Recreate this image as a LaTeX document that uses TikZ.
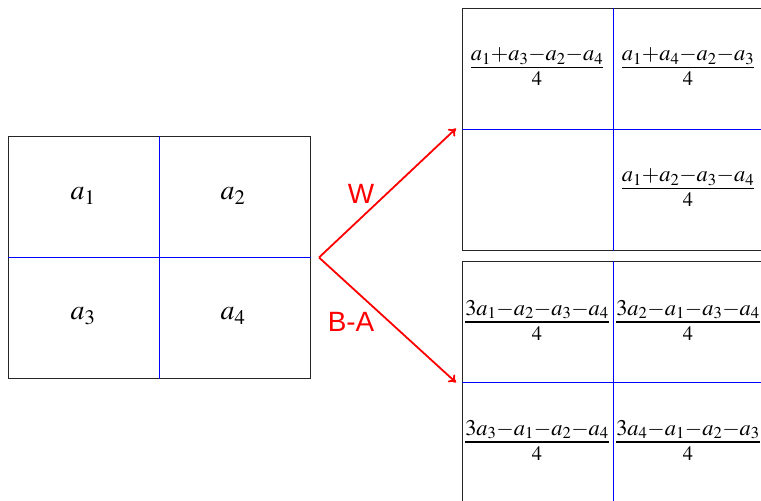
\documentclass[tikz,border=0pt]{standalone}
\usepackage{amsmath}
\usepackage{mathptmx}
\usepackage[no-math]{fontspec}
\newfontfamily\lsans{Liberation Sans}
\usetikzlibrary{arrows.meta}
\setlength{\arrayrulewidth}{1.2pt}
\newcommand{\fr}[2]{\begin{tabular}{@{}c@{}}\rule[-6pt]{0pt}{0pt}\fontsize{22.5}{24}\selectfont$\medmuskip=0mu #1$\\\hline\rule{0pt}{17.5pt}\fontsize{20.5}{22}\selectfont$#2$\end{tabular}}
\begin{document}
\begin{tikzpicture}[x=1bp,y=-1bp,
  boxframe/.style={draw=black!85,line width=1bp,minimum width=302bp,minimum height=242bp,inner sep=0pt},
  gridline/.style={draw=blue,line width=1.1bp},
  big/.style={font=\fontsize{28}{32}\selectfont},
  frac/.style={inner sep=0pt},
  lbl/.style={text=red,font=\lsans\fontsize{28}{32}\selectfont},
  arr/.style={draw=red,line width=1.8bp,-{To[length=7bp,width=10bp]}}]
\useasboundingbox (0,0) rectangle (761,501);
\begin{scope}
\clip (0,0) rectangle (761,501);
% left box
\node[boxframe] (L) at (159.5,257.5) {};
\draw[gridline] (L.north) -- (L.south);
\draw[gridline] (L.west) -- (L.east);
\node[big] (a1) at (83,196) {$a_1$};
\node[big] (a2) at (233,196) {$a_2$};
\node[big] (a3) at (83,316) {$a_3$};
\node[big] (a4) at (233,316) {$a_4$};
% top right box
\node[boxframe] (T) at (613.5,129.5) {};
\draw[gridline] (T.north) -- (T.south);
\draw[gridline] (T.west) -- (T.east);
\node[frac] (t1) at (537,68.5) {\fr{a_1+a_3-a_2-a_4}{4}};
\node[frac] (t2) at (688,68.5) {\fr{a_1+a_4-a_2-a_3}{4}};
\node[frac] (t4) at (688,189.5) {\fr{a_1+a_2-a_3-a_4}{4}};
% bottom right box
\node[boxframe] (B) at (613.5,382.5) {};
\draw[gridline] (B.north) -- (B.south);
\draw[gridline] (B.west) -- (B.east);
\node[frac] (b1) at (537,322) {\fr{3a_1-a_2-a_3-a_4}{4}};
\node[frac] (b2) at (688,322) {\fr{3a_2-a_1-a_3-a_4}{4}};
\node[frac] (b3) at (537,442) {\fr{3a_3-a_1-a_2-a_4}{4}};
\node[frac] (b4) at (688,442) {\fr{3a_4-a_1-a_2-a_3}{4}};
% arrows
\coordinate (s) at ([xshift=8bp]L.east);
\coordinate (te) at ([xshift=-6bp,yshift=1bp]T.west);
\coordinate (be) at ([xshift=-6bp]B.west);
\draw[arr] (s) -- (te);
\draw[arr] (s) -- (be);
\node[lbl] (w) at (361,194) {W};
\node[lbl] (ba) at (351,322) {B-A};
\end{scope}
\end{tikzpicture}
\end{document}
